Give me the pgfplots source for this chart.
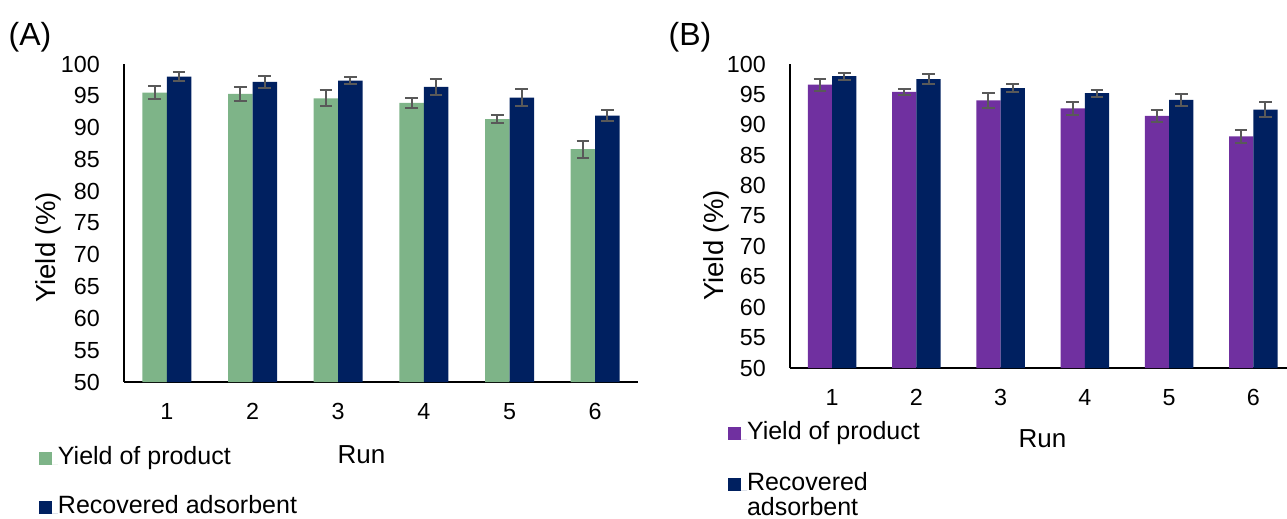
\documentclass[border=0pt]{standalone}
\usepackage{pgfplots}
\pgfplotsset{compat=1.18}
\usepackage{fontspec}
\setmainfont{Liberation Sans}
\definecolor{cgreen}{RGB}{126,180,136}
\definecolor{cnavy}{RGB}{0,32,96}
\definecolor{cpurple}{RGB}{112,48,160}
\definecolor{cerr}{RGB}{89,89,89}
\pgfplotsset{
  mybase/.style={
    scale only axis, ybar=0pt, ymin=50, ymax=100, ytick={50,55,...,100}, xtick={1,...,6},
    axis x line*=bottom, axis y line*=left,
    axis line style={line width=1.5bp, black},
    major tick length=0pt, tick style={draw=none},
    /pgf/number format/assume math mode=true,
    ticklabel style={font=\fontsize{23.3bp}{28bp}\selectfont, inner sep=0pt},
    yticklabel style={xshift=-24bp},
    xticklabel style={yshift=-21bp},
    ylabel={Yield (\%)}, xlabel={Run},
    ylabel style={font=\fontsize{27.5bp}{32bp}\selectfont, anchor=center, inner sep=0pt},
    xlabel style={font=\fontsize{26bp}{30bp}\selectfont, anchor=base, inner sep=0pt},
    legend style={draw=none, fill=none, inner sep=0pt, outer sep=0pt, anchor=north west,
      cells={anchor=base west}, nodes={inner sep=0pt, outer sep=0pt},
      font=\fontsize{25bp}{25bp}\selectfont},
  },
  myleg/.style={legend image code/.code={\fill[##1] (0bp,-1bp) rectangle (13bp,12bp); \path (0bp,0bp) -- (19bp,0bp);}},
  myerr/.style={error bars/.cd, y dir=both, y explicit,
    error bar style={color=cerr, line width=2bp},
    error mark options={color=cerr, line width=2bp, mark size=6.3bp, rotate=90}},
}
\begin{document}
\begin{tikzpicture}
\path[use as bounding box] (0,0) rectangle (1287bp,-519bp);
\node[anchor=base west, font=\fontsize{32bp}{36bp}\selectfont, inner sep=0pt] at (8.5bp,-45bp) {(A)};
\node[anchor=base west, font=\fontsize{32bp}{36bp}\selectfont, inner sep=0pt] at (668.5bp,-45bp) {(B)};
\begin{axis}[mybase, at={(124bp,-382bp)}, anchor=south west, width=514bp, height=318bp,
  xmin=0.5, xmax=6.5, bar width=24.5bp,
  ylabel style={at={(axis description cs:-0.1469,0.4230)}},
  xlabel style={at={(axis description cs:0.462,-0.2547)}},
  legend style={at={(axis description cs:-0.1654,-0.2013)}, row sep={49bp,between origins}}]
\addplot[fill=cgreen, draw=none, myleg, myerr] coordinates {
  (1,95.5) +- (0,1.0) (2,95.3) +- (0,1.1) (3,94.6) +- (0,1.25)
  (4,93.9) +- (0,0.75) (5,91.35) +- (0,0.7) (6,86.6) +- (0,1.35)};
\addlegendentry{Yield of product}
\addplot[fill=cnavy, draw=none, myleg, myerr] coordinates {
  (1,98.0) +- (0,0.7) (2,97.2) +- (0,0.95) (3,97.4) +- (0,0.55)
  (4,96.4) +- (0,1.2) (5,94.7) +- (0,1.35) (6,91.9) +- (0,0.8)};
\addlegendentry{Recovered adsorbent}
\end{axis}
\begin{axis}[mybase, at={(790bp,-368bp)}, anchor=south west, width=497bp, height=304bp,
  xmin=0.5, xmax=6.4, bar width=24.3bp,
  ylabel style={at={(axis description cs:-0.1489,0.4030)}},
  xlabel style={at={(axis description cs:0.508,-0.2599)}},
  legend style={at={(axis description cs:-0.12475,-0.17434)}, row sep={51bp,between origins}}]
\addplot[fill=cpurple, draw=none, myleg, myerr] coordinates {
  (1,96.6) +- (0,1.0) (2,95.4) +- (0,0.5) (3,94.0) +- (0,1.2)
  (4,92.7) +- (0,1.1) (5,91.45) +- (0,1.0) (6,88.1) +- (0,1.05)};
\addlegendentry{Yield of product}
\addplot[fill=cnavy, draw=none, myleg, myerr] coordinates {
  (1,98.0) +- (0,0.55) (2,97.5) +- (0,0.85) (3,96.05) +- (0,0.7)
  (4,95.2) +- (0,0.55) (5,94.1) +- (0,1.0) (6,92.5) +- (0,1.2)};
\addlegendentry{{\begin{tabular}[t]{@{}l@{}}Recovered\\adsorbent\end{tabular}}}
\end{axis}
\end{tikzpicture}
\end{document}
